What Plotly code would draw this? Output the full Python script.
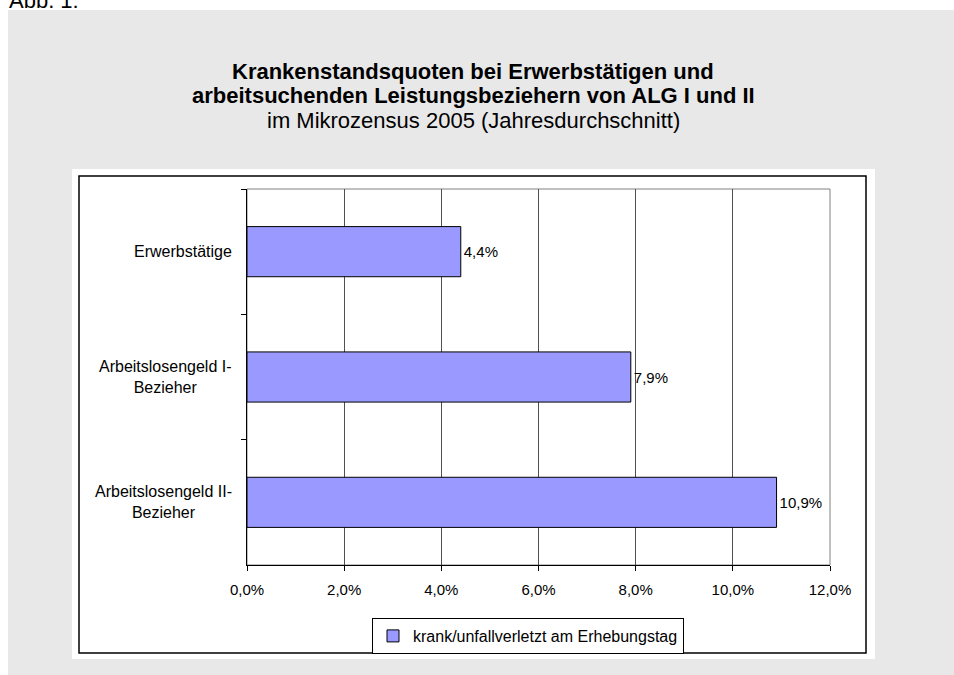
import plotly.graph_objects as go

# Krankenstandsquoten nach Erwerbsstatus (Mikrozensus 2005)
gruppen = ["Erwerbstätige", "Arbeitslosengeld I-<br>Bezieher", "Arbeitslosengeld II-<br>Bezieher"]
quoten = [0.044, 0.079, 0.109]
serie = "krank/unfallverletzt am Erhebungstag"
titel = ["<b>Krankenstandsquoten bei Erwerbstätigen und</b>",
         "<b>arbeitsuchenden Leistungsbeziehern von ALG I und II</b>",
         "im Mikrozensus 2005 (Jahresdurchschnitt)"]
xticks = [0, 0.02, 0.04, 0.06, 0.08, 0.10, 0.12]

W, H = 954, 675
L, R, T, B = 247, 124, 189, 110
FONT = "Liberation Sans, Arial, sans-serif"

def fx(p):
    return (p - L) / (W - L - R)

def fy(p):
    return 1 - (p - T) / (H - T - B)

fig = go.Figure()
fig.add_trace(go.Bar(
    y=gruppen, x=quoten, orientation="h", name=serie,
    width=0.4,
    marker=dict(color="#9999ff", line=dict(color="black", width=1)),
    texttemplate="%{x:.1%}", textposition="outside",
    textfont=dict(size=15, color="black"),
    cliponaxis=False, showlegend=True,
))

# hintergrund / rahmen
shapes = [
    dict(type="rect", xref="paper", yref="paper", x0=fx(8), x1=fx(960), y0=fy(10), y1=fy(680),
         fillcolor="#e8e8e8", line_width=0, layer="below"),
    dict(type="rect", xref="paper", yref="paper", x0=fx(72), x1=fx(875), y0=fy(169), y1=fy(659),
         fillcolor="white", line_width=0, layer="below"),
    dict(type="rect", xref="paper", yref="paper", x0=fx(79), x1=fx(866), y0=fy(176), y1=fy(653),
         fillcolor="white", line=dict(color="black", width=1.5), layer="below"),
    dict(type="rect", xref="paper", yref="paper", x0=0, x1=1, y0=0, y1=1,
         line=dict(color="#808080", width=1), layer="below"),
]

ann = []
for t, yy in zip(titel, [71, 96, 121]):
    ann.append(dict(text=t, xref="paper", yref="paper", x=fx(473), y=fy(yy),
                    xanchor="center", yanchor="middle", showarrow=False,
                    font=dict(size=22, color="black", family=FONT)))
ann.append(dict(text="Abb. 1:", xref="paper", yref="paper", x=fx(7), y=fy(15),
                xanchor="left", yanchor="bottom", showarrow=False,
                font=dict(size=22, color="black", family=FONT)))
for g in gruppen:
    ann.append(dict(text=g, xref="paper", yref="y", x=0, y=g, xshift=-13,
                    xanchor="right", yanchor="middle", align="center", showarrow=False,
                    font=dict(size=16, color="black", family=FONT)))

fig.update_layout(
    width=W, height=H,
    margin=dict(l=L, r=R, t=T, b=B, autoexpand=False),
    paper_bgcolor="white", plot_bgcolor="rgba(0,0,0,0)",
    font=dict(family=FONT, size=15, color="black"),
    separators=",.",
    shapes=shapes, annotations=ann,
    bargap=0.6,
    legend=dict(x=fx(372), y=fy(618), xanchor="left", yanchor="top",
                bgcolor="white", bordercolor="black", borderwidth=1,
                font=dict(size=16), itemwidth=30),
)
fig.update_xaxes(range=[0, 0.12], tickvals=xticks, tickformat=".1%",
                 showgrid=True, gridcolor="#505050", gridwidth=1, zeroline=False,
                 showline=True, linecolor="black", linewidth=1,
                 ticks="outside", ticklen=5, tickcolor="black",
                 ticklabelstandoff=6, tickfont=dict(size=15))
fig.update_yaxes(autorange="reversed", showgrid=False, zeroline=False,
                 showline=True, linecolor="black", linewidth=1,
                 ticks="outside", ticklen=5, tickcolor="black",
                 tickson="boundaries", showticklabels=False)

# body-rand entfernen, damit die grafik bei 0,0 beginnt
fig.write_html("out.html", config={"displayModeBar": False},
               post_script="document.body.style.margin='0';")
